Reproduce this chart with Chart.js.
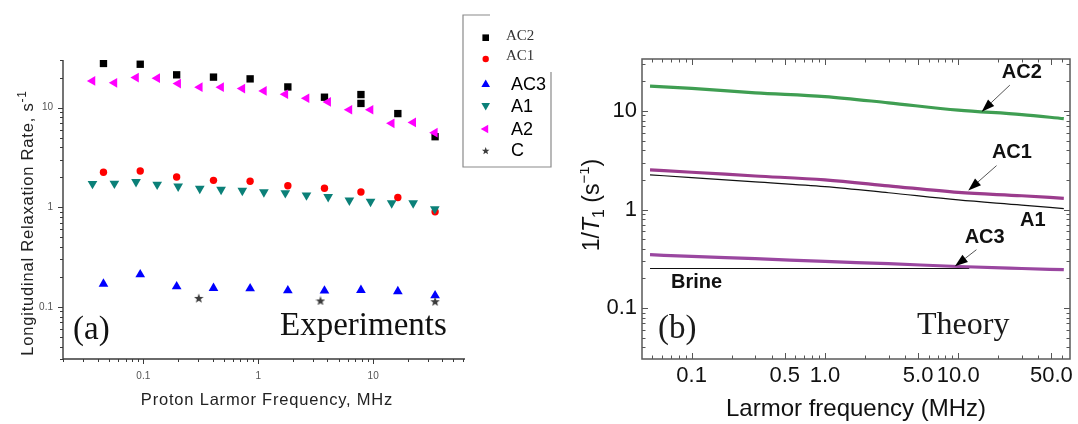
<!DOCTYPE html>
<html><head><meta charset="utf-8">
<script src="https://cdn.jsdelivr.net/npm/chart.js@4.4.1/dist/chart.umd.min.js"></script>
<style>
html,body{margin:0;padding:0;background:#fff;width:1078px;height:424px;overflow:hidden}
canvas{position:absolute;top:0}
#ca{left:0}
#cb{left:580px}
</style></head><body>
<canvas id="ca" width="580" height="424"></canvas>
<canvas id="cb" width="498" height="424"></canvas>
<script>
// ---------- Panel (a): experimental data ----------
const freqAC2 = [0.045, 0.094, 0.195, 0.408, 0.85, 1.81, 3.77, 7.83, 7.83, 16.4, 34.6];
const valAC2  = [27.7, 27.2, 21.3, 20.2, 19.4, 16.1, 12.7, 13.5, 11.0, 8.7, 5.1];
const freqAC  = [0.045, 0.094, 0.195, 0.408, 0.85, 1.81, 3.77, 7.83, 16.4, 34.6];
const valAC1  = [2.24, 2.31, 2.01, 1.86, 1.82, 1.64, 1.55, 1.42, 1.25, 0.90];
const valAC3  = [0.170, 0.211, 0.160, 0.154, 0.153, 0.146, 0.145, 0.147, 0.143, 0.130];
const freqA   = [0.0361, 0.056, 0.0864, 0.132, 0.201, 0.310, 0.475, 0.727, 1.12, 1.72, 2.63, 4.06, 6.21, 9.49, 14.5, 22.3, 34.4];
const valA2   = [18.5, 17.7, 20.0, 19.7, 17.4, 16.0, 16.0, 15.5, 14.7, 13.6, 12.4, 11.4, 9.5, 9.5, 6.95, 7.1, 5.6];
const valA1   = [1.72, 1.73, 1.80, 1.69, 1.62, 1.54, 1.50, 1.47, 1.42, 1.39, 1.32, 1.27, 1.17, 1.14, 1.10, 1.10, 0.96];
const freqC   = [0.304, 3.48, 34.6];
const valC    = [0.123, 0.116, 0.114];
const seriesNamesA = ['AC2', 'AC1', 'AC3', 'A1', 'A2', 'C'];
const ticksA = [0.1, 1, 10];

// ---------- Panel (b): theory curves ----------
const freqTheory = [0.0487, 0.1, 0.3, 1, 3, 10, 30, 62];
const thAC2 = [17.9, 17.0, 15.3, 14.0, 12.1, 10.2, 9.2, 8.35];
const thAC1 = [2.52, 2.39, 2.19, 2.0, 1.74, 1.49, 1.38, 1.30];
const thA1  = [2.25, 2.11, 1.91, 1.71, 1.48, 1.25, 1.11, 1.02];
const thAC3 = [0.348, 0.334, 0.317, 0.297, 0.282, 0.264, 0.252, 0.245];
const freqBrine = [0.0487, 12.1];
const thBrine   = [0.252, 0.252];
const ticksBx = [0.1, 0.5, 1, 5, 10, 50];
const tickLabelsBx = ['0.1', '0.5', '1.0', '5.0', '10.0', '50.0'];
const ticksBy = [0.1, 1, 10];

const SANS = '"Liberation Sans", Arial, sans-serif';
const SERIF = '"Liberation Serif", "Times New Roman", serif';

const pts = (xs, ys) => xs.map((x, i) => ({x: x, y: ys[i]}));

function drawStar(g, cx, cy, R, r) {
  g.beginPath();
  for (let i = 0; i < 10; i++) {
    const rad = (i % 2) ? r : R;
    const a = -Math.PI / 2 + i * Math.PI / 5;
    const px = cx + rad * Math.cos(a), py = cy + rad * Math.sin(a);
    if (i) g.lineTo(px, py); else g.moveTo(px, py);
  }
  g.closePath(); g.fill();
}
function starCanvas(size, color) {
  const c = document.createElement('canvas');
  c.width = size; c.height = size;
  const g = c.getContext('2d');
  g.fillStyle = color;
  drawStar(g, size / 2, size / 2 + size * 0.06, size / 2, size * 0.21);
  return c;
}
function drawMarker(g, type, x, y, r, color, rot) {
  g.save();
  g.fillStyle = color;
  g.beginPath();
  if (type === 'rect') { g.rect(x - r, y - r, 2 * r, 2 * r); g.fill(); }
  else if (type === 'circle') { g.arc(x, y, r, 0, Math.PI * 2); g.fill(); }
  else if (type === 'triangle') {
    let a = (rot || 0) * Math.PI / 180;
    for (let i = 0; i < 3; i++) {
      const px = x + Math.sin(a) * r, py = y - Math.cos(a) * r;
      if (i) g.lineTo(px, py); else g.moveTo(px, py);
      a += 2 * Math.PI / 3;
    }
    g.closePath(); g.fill();
  } else if (type === 'star') { drawStar(g, x, y + 0.5, r, r * 0.42); }
  g.restore();
}
function logTicks(min, max, majorList) {
  const out = [];
  for (let d = Math.floor(Math.log10(min)); d <= Math.ceil(Math.log10(max)); d++) {
    for (let m = 1; m <= 9; m++) {
      const v = m * Math.pow(10, d);
      if (v >= min * 0.999 && v <= max * 1.001) {
        const major = majorList ? majorList.some(t => Math.abs(t - v) < v * 1e-6) : m === 1;
        out.push({v: v, major: major});
      }
    }
  }
  return out;
}
function drawRuns(ctx, runs, x, y) {
  for (const r of runs) {
    ctx.font = r.font;
    ctx.fillText(r.t, x, y + (r.dy || 0));
    x += ctx.measureText(r.t).width;
  }
}
function runsWidth(ctx, runs) {
  let w = 0;
  for (const r of runs) { ctx.font = r.font; w += ctx.measureText(r.t).width; }
  return w;
}

const starImg = starCanvas(10, '#3c3c3c');

// ---------- Panel (a) plugin ----------
const panelA = {
  id: 'panelA',
  beforeDatasetsDraw(chart) {
    const {ctx, chartArea: {left, right, top, bottom}, scales: {x, y}} = chart;
    ctx.save();
    ctx.strokeStyle = '#3a3a3a';
    ctx.lineWidth = 1.4;
    ctx.beginPath();
    ctx.moveTo(left, top); ctx.lineTo(left, bottom); ctx.lineTo(right, bottom);
    ctx.stroke();
    ctx.lineWidth = 1;
    ctx.beginPath();
    for (const t of logTicks(x.min, x.max)) {
      const px = Math.round(x.getPixelForValue(t.v)) + 0.5;
      ctx.moveTo(px, bottom); ctx.lineTo(px, bottom + (t.major ? 5 : 3));
    }
    for (const t of logTicks(y.min, y.max)) {
      const py = Math.round(y.getPixelForValue(t.v)) + 0.5;
      ctx.moveTo(left, py); ctx.lineTo(left - (t.major ? 5 : 3), py);
    }
    ctx.stroke();
    ctx.restore();
  },
  afterDraw(chart) {
    const {ctx, chartArea: {left, right, top, bottom}} = chart;
    ctx.save();
    ctx.fillStyle = '#222';
    // y title
    ctx.letterSpacing = '0.8px';
    const yRuns = [
      {t: 'Longitudinal Relaxation Rate, s', font: '16.5px ' + SANS},
      {t: '-1', font: '12px ' + SANS, dy: -7}
    ];
    ctx.save();
    ctx.translate(32.5, 223);
    ctx.rotate(-Math.PI / 2);
    ctx.textBaseline = 'alphabetic';
    ctx.textAlign = 'left';
    drawRuns(ctx, yRuns, -runsWidth(ctx, yRuns) / 2, 0);
    ctx.restore();
    // x title
    ctx.font = '16.5px ' + SANS;
    ctx.textAlign = 'center';
    ctx.textBaseline = 'alphabetic';
    ctx.fillText('Proton Larmor Frequency, MHz', 267, 405);
    ctx.letterSpacing = '0px';
    // panel texts
    ctx.fillStyle = '#111';
    ctx.font = '33px ' + SERIF;
    ctx.textAlign = 'left';
    ctx.fillText('(a)', left + 10, 339);
    ctx.fillText('Experiments', 280, 335);
    // legend box
    ctx.strokeStyle = '#8a8a8a';
    ctx.lineWidth = 1.2;
    ctx.beginPath();
    ctx.moveTo(490, 15); ctx.lineTo(463, 15); ctx.lineTo(463, 167); ctx.lineTo(551, 167); ctx.lineTo(551, 72);
    ctx.stroke();
    const legendRows = [
      {type: 'rect', r: 3.3, color: '#000', my: 37.7, ty: 40, font: '15px ' + SERIF, tx: 506, tc: '#333'},
      {type: 'circle', r: 3.2, color: '#f00', my: 59, ty: 60, font: '15px ' + SERIF, tx: 506, tc: '#333'},
      {type: 'triangle', r: 5, color: '#0000ff', my: 84.5, ty: 89.5, font: '18px ' + SANS, tx: 511, tc: '#000'},
      {type: 'triangle', r: 5, color: '#0b8078', my: 105.5, ty: 111.5, font: '18px ' + SANS, tx: 511, tc: '#000', rot: 180},
      {type: 'triangle', r: 5, color: '#ff00ff', my: 129, ty: 134.5, font: '18px ' + SANS, tx: 511, tc: '#000', rot: 270},
      {type: 'star', r: 4, color: '#3c3c3c', my: 150.5, ty: 156, font: '18px ' + SANS, tx: 511, tc: '#000'}
    ];
    legendRows.forEach((row, i) => {
      drawMarker(ctx, row.type, 485.7, row.my, row.r, row.color, row.rot);
      ctx.fillStyle = row.tc;
      ctx.font = row.font;
      ctx.textAlign = 'left';
      ctx.fillText(seriesNamesA[i], row.tx, row.ty);
    });
    ctx.restore();
  }
};

new Chart(document.getElementById('ca'), {
  type: 'scatter',
  data: {
    datasets: [
      {label: seriesNamesA[0], data: pts(freqAC2, valAC2), pointStyle: 'rect', pointRadius: 5.2, backgroundColor: '#000', borderColor: '#000', pointBorderWidth: 0, order: 5},
      {label: seriesNamesA[1], data: pts(freqAC, valAC1), pointStyle: 'circle', pointRadius: 3.7, backgroundColor: '#ff0000', borderColor: '#ff0000', pointBorderWidth: 0, order: 4},
      {label: seriesNamesA[2], data: pts(freqAC, valAC3), pointStyle: 'triangle', pointRadius: 5.6, backgroundColor: '#0000ff', borderColor: '#0000ff', pointBorderWidth: 0, order: 3},
      {label: seriesNamesA[3], data: pts(freqA, valA1), pointStyle: 'triangle', rotation: 180, pointRadius: 5.6, backgroundColor: '#0b8078', borderColor: '#0b8078', pointBorderWidth: 0, order: 2},
      {label: seriesNamesA[4], data: pts(freqA, valA2), pointStyle: 'triangle', rotation: 270, pointRadius: 5.6, backgroundColor: '#ff00ff', borderColor: '#ff00ff', pointBorderWidth: 0, order: 1},
      {label: seriesNamesA[5], data: pts(freqC, valC), pointStyle: starImg, pointRadius: 5, backgroundColor: '#3c3c3c', borderColor: '#3c3c3c', pointBorderWidth: 0, order: 0}
    ]
  },
  options: {
    responsive: false, animation: false, devicePixelRatio: 1,
    layout: {padding: {left: 0, top: 60, right: 115, bottom: 16}},
    plugins: {legend: {display: false}, tooltip: {enabled: false}},
    scales: {
      x: {
        type: 'logarithmic', min: 0.02, max: 63,
        grid: {display: false, drawTicks: false}, border: {display: false},
        afterBuildTicks: s => { s.ticks = ticksA.map(v => ({value: v})); },
        afterFit: s => { s.height = 49; },
        ticks: {autoSkip: false, maxRotation: 0, padding: 11, color: '#555', font: {family: SANS, size: 10},
                callback: v => String(v)}
      },
      y: {
        type: 'logarithmic', min: 0.03, max: 30,
        grid: {display: false, drawTicks: false}, border: {display: false},
        afterBuildTicks: s => { s.ticks = ticksA.map(v => ({value: v})); },
        afterFit: s => { s.width = 63; },
        ticks: {autoSkip: false, padding: 10, color: '#555', font: {family: SANS, size: 10},
                callback: v => String(v)}
      }
    }
  },
  plugins: [panelA]
});

// ---------- Panel (b) plugin ----------
const annB = [
  {text: 'AC2', at: [30, 24.8], from: [24.4, 18.3], to: [15.0, 9.84]},
  {text: 'AC1', at: [25.3, 3.75], from: [19.4, 2.79], to: [11.9, 1.56]},
  {text: 'A1', at: [36.3, 0.774]},
  {text: 'AC3', at: [15.8, 0.517], from: [13.7, 0.391], to: [9.45, 0.265]},
  {text: 'Brine', at: [0.109, 0.182]}
];

const panelB = {
  id: 'panelB',
  beforeDatasetsDraw(chart) {
    const {ctx, chartArea: {left, right, top, bottom}, scales: {x, y}} = chart;
    ctx.save();
    ctx.strokeStyle = '#555';
    ctx.lineWidth = 1;
    ctx.beginPath();
    for (const t of logTicks(x.min, x.max, ticksBx)) {
      const px = Math.round(x.getPixelForValue(t.v)) + 0.5;
      const L = t.major ? 6 : 3.5;
      ctx.moveTo(px, bottom); ctx.lineTo(px, bottom - L);
      ctx.moveTo(px, top); ctx.lineTo(px, top + L);
    }
    for (const t of logTicks(y.min, y.max, ticksBy)) {
      const py = Math.round(y.getPixelForValue(t.v)) + 0.5;
      const L = t.major ? 6 : 3.5;
      ctx.moveTo(left, py); ctx.lineTo(left + L, py);
      ctx.moveTo(right, py); ctx.lineTo(right - L, py);
    }
    ctx.stroke();
    ctx.restore();
  },
  afterDraw(chart) {
    const {ctx, chartArea: {left, right, top, bottom}, scales: {x, y}} = chart;
    ctx.save();
    // frame
    ctx.strokeStyle = '#5a5a5a';
    ctx.lineWidth = 1.5;
    ctx.strokeRect(left, top, right - left, bottom - top);
    // annotations
    for (const a of annB) {
      if (a.from) {
        const x1 = x.getPixelForValue(a.from[0]), y1 = y.getPixelForValue(a.from[1]);
        const x2 = x.getPixelForValue(a.to[0]), y2 = y.getPixelForValue(a.to[1]);
        const ang = Math.atan2(y2 - y1, x2 - x1);
        const hl = 13, hw = 4.5;
        const bx = x2 - hl * Math.cos(ang), by = y2 - hl * Math.sin(ang);
        ctx.strokeStyle = '#555';
        ctx.lineWidth = 1;
        ctx.beginPath(); ctx.moveTo(x1, y1); ctx.lineTo(bx, by); ctx.stroke();
        ctx.fillStyle = '#000';
        ctx.beginPath();
        ctx.moveTo(x2, y2);
        ctx.lineTo(bx + hw * Math.sin(ang), by - hw * Math.cos(ang));
        ctx.lineTo(bx - hw * Math.sin(ang), by + hw * Math.cos(ang));
        ctx.closePath(); ctx.fill();
      }
      ctx.fillStyle = '#111';
      ctx.font = 'bold 20px ' + SANS;
      ctx.textAlign = 'center';
      ctx.textBaseline = 'middle';
      ctx.fillText(a.text, x.getPixelForValue(a.at[0]), y.getPixelForValue(a.at[1]));
    }
    // y title 1/T1 (s^-1)
    ctx.fillStyle = '#111';
    ctx.textBaseline = 'alphabetic';
    ctx.textAlign = 'left';
    const runs = [
      {t: '1/', font: '23px ' + SANS},
      {t: 'T', font: 'italic 23px ' + SANS},
      {t: '1', font: '16px ' + SANS, dy: 5},
      {t: ' (s', font: '23px ' + SANS},
      {t: '\u22121', font: '15px ' + SANS, dy: -10},
      {t: ')', font: '23px ' + SANS}
    ];
    ctx.save();
    ctx.translate(19, 205);
    ctx.rotate(-Math.PI / 2);
    drawRuns(ctx, runs, -runsWidth(ctx, runs) / 2, 0);
    ctx.restore();
    // panel texts
    ctx.fillStyle = '#1a1a1a';
    ctx.font = '33px ' + SERIF;
    ctx.textAlign = 'left';
    ctx.fillText('(b)', left + 16, 338);
    ctx.font = '32px ' + SERIF;
    ctx.fillText('Theory', left + 275, 334);
    ctx.restore();
  }
};

new Chart(document.getElementById('cb'), {
  type: 'scatter',
  data: {
    datasets: [
      {label: 'AC2', data: pts(freqTheory, thAC2), showLine: true, pointRadius: 0, borderColor: '#3f9e52', borderWidth: 3.2, cubicInterpolationMode: 'monotone'},
      {label: 'AC1', data: pts(freqTheory, thAC1), showLine: true, pointRadius: 0, borderColor: '#9b3c8d', borderWidth: 3.2, cubicInterpolationMode: 'monotone'},
      {label: 'A1', data: pts(freqTheory, thA1), showLine: true, pointRadius: 0, borderColor: '#111', borderWidth: 1.2, cubicInterpolationMode: 'monotone'},
      {label: 'AC3', data: pts(freqTheory, thAC3), showLine: true, pointRadius: 0, borderColor: '#9a47a0', borderWidth: 3.2, cubicInterpolationMode: 'monotone'},
      {label: 'Brine', data: pts(freqBrine, thBrine), showLine: true, pointRadius: 0, borderColor: '#111', borderWidth: 1.2, order: 1}
    ]
  },
  options: {
    responsive: false, animation: false, devicePixelRatio: 1,
    layout: {padding: {left: 0, top: 59, right: 8, bottom: 0}},
    plugins: {legend: {display: false}, tooltip: {enabled: false}},
    scales: {
      x: {
        type: 'logarithmic', min: 0.0424, max: 69,
        grid: {display: false, drawTicks: false}, border: {display: false},
        afterBuildTicks: s => { s.ticks = ticksBx.map(v => ({value: v})); },
        afterFit: s => { s.height = 65; },
        ticks: {autoSkip: false, maxRotation: 0, padding: 4, color: '#111', font: {family: SANS, size: 22},
                callback: v => tickLabelsBx[ticksBx.findIndex(t => Math.abs(t - v) < 1e-9)]},
        title: {display: true, text: 'Larmor frequency (MHz)', color: '#111', font: {family: SANS, size: 24}, padding: 0}
      },
      y: {
        type: 'logarithmic', min: 0.0304, max: 33.7,
        grid: {display: false, drawTicks: false}, border: {display: false},
        afterBuildTicks: s => { s.ticks = ticksBy.map(v => ({value: v})); },
        afterFit: s => { s.width = 62; },
        ticks: {autoSkip: false, padding: 5, color: '#111', font: {family: SANS, size: 22},
                callback: v => String(v)}
      }
    }
  },
  plugins: [panelB]
});
</script>
</body></html>
